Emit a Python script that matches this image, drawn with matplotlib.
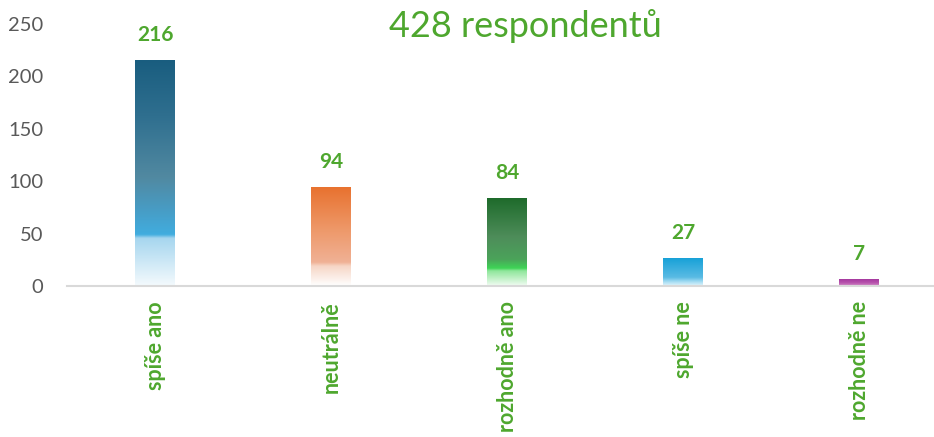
#!/usr/bin/env python3
"""Bar chart of survey answers with gradient-filled bars."""

import matplotlib

matplotlib.use("Agg")
import matplotlib.pyplot as plt
import numpy as np
from matplotlib.colors import LinearSegmentedColormap

plt.rcParams["font.family"] = ["Lato", "DejaVu Sans"]

CATEGORIES = ["spíše ano", "neutrálně", "rozhodně ano", "spíše ne", "rozhodně ne"]
COUNTS = [216, 94, 84, 27, 7]
TITLE = "428 respondentů"

GREEN = "#4EA72E"
GREY = "#595959"

# gradient stops per bar, (fraction from bottom, colour)
GRADIENTS = [
    [(0.0, "#F4FAFD"), (0.21, "#A6D6EF"), (0.226, "#41ADDF"), (0.33, "#479DC6"),
     (0.48, "#5189A1"), (0.75, "#2F6F8F"), (1.0, "#195D7F")],
    [(0.0, "#FFFFFF"), (0.2, "#F6D6C6"), (0.24, "#F0B195"), (0.55, "#EE9A6C"),
     (1.0, "#E8722F")],
    [(0.0, "#F2FCF3"), (0.17, "#8EE69A"), (0.2, "#3ED456"), (0.3, "#4BA35A"),
     (0.55, "#4E8D5A"), (1.0, "#1D6A2A")],
    [(0.0, "#E4F5FC"), (0.15, "#A4DCF2"), (0.3, "#5ABBE4"), (1.0, "#14A0D7")],
    [(0.0, "#D490C8"), (0.4, "#B855AE"), (1.0, "#A0309A")],
]

fig = plt.figure(figsize=(9.34, 4.37), dpi=100)
ax = fig.add_axes([67 / 934, 1 - 286 / 437, 880 / 934, 262 / 437])

x = np.arange(len(CATEGORIES))
bars = ax.bar(x, COUNTS, width=0.227, color="none", edgecolor="none", zorder=2)

grad = np.linspace(0, 1, 256).reshape(-1, 1)
for bar, stops in zip(bars, GRADIENTS):
    cmap = LinearSegmentedColormap.from_list("g", stops)
    x0, w, h = bar.get_x(), bar.get_width(), bar.get_height()
    im = ax.imshow(grad, cmap=cmap, origin="lower", aspect="auto",
                   extent=(x0, x0 + w, 0, h), zorder=2, interpolation="bilinear")
    im.set_clip_path(bar)

for xi, v in zip(x, COUNTS):
    ax.annotate(str(v), (xi, v), xytext=(0, 18), textcoords="offset points",
                ha="center", va="center", fontsize=15, fontweight="bold", color=GREEN)

ax.set_xlim(-0.5, len(CATEGORIES) - 0.5)
ax.set_ylim(0, 250)
ax.set_yticks(np.arange(0, 251, 50))
ax.tick_params(axis="y", length=0, pad=17, labelsize=14.5, labelcolor=GREY)
ax.set_xticks(x)
ax.set_xticklabels(CATEGORIES, rotation=90, fontsize=15.5, fontweight="bold",
                   color=GREEN, va="top", ha="center")
ax.tick_params(axis="x", length=0, pad=11)

for side in ["top", "right", "left"]:
    ax.spines[side].set_visible(False)
ax.spines["bottom"].set_color("#D9D9D9")
ax.spines["bottom"].set_linewidth(1.5)
ax.spines["bottom"].set_zorder(3)

fig.text(525 / 934, 1 - 26 / 437, TITLE, ha="center", va="center",
         fontsize=26, color=GREEN)

fig.savefig("out.png", dpi=100)
